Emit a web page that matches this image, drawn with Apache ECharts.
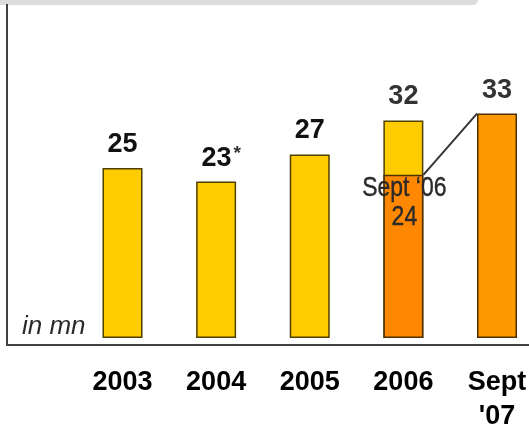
<!DOCTYPE html>
<html>
<head>
<meta charset="utf-8">
<script src="https://cdn.jsdelivr.net/npm/echarts@6/dist/echarts.min.js"></script>
<style>html,body{margin:0;padding:0;background:#fff}#c{width:529px;height:429px}</style>
</head>
<body>
<div id="c"></div>
<script>
const categories = ['2003', '2004', '2005', '2006', "Sept\n'07"];
const totalValues = [25, 23, 27, 32, null];
const septValues = [null, null, null, 24, 33];
const footnoteIndex = 1;
const unitText = 'in mn';
const septNoteLabel = 'Sept \u201806';

const FONT = "'Liberation Sans', Arial, sans-serif";
const chart = echarts.init(document.getElementById('c'), null, {renderer: 'canvas'});

const totalsData = totalValues.map((v, i) => {
  if (v === null) return null;
  const item = {value: v};
  if (i === footnoteIndex) {
    item.label = {formatter: '{a|' + v + '}{s|*}', offset: [5, 0]};
  }
  if (i === 3) {
    item.label = {color: '#333'};
  }
  return item;
});
const septData = septValues.map((v, i) => {
  if (v === null) return null;
  return {
    value: v,
    itemStyle: {color: i === 3 ? '#FF8800' : '#FF9900'},
    label: {show: i !== 3}
  };
});

chart.setOption({
  animation: false,
  grid: {left: 122.5, right: 32, top: 66, bottom: 91, containLabel: false, outerBoundsMode: 'none'},
  xAxis: {
    type: 'category', data: categories, boundaryGap: false,
    axisLine: {show: false}, axisTick: {show: false}, splitLine: {show: false},
    axisLabel: {interval: 0, margin: 28, fontFamily: FONT, fontWeight: 'bold', fontSize: 27, color: '#000', lineHeight: 34}
  },
  yAxis: {type: 'value', min: 0, max: 40, show: false},
  series: [
    {
      type: 'bar', data: totalsData, barWidth: 40,
      itemStyle: {color: '#FFCC00', borderColor: '#4f4000', borderWidth: 1.5},
      label: {
        show: true, position: 'top', distance: 10,
        fontFamily: FONT, fontWeight: 'bold', fontSize: 27, color: '#111',
        rich: {
          a: {fontFamily: FONT, fontWeight: 'bold', fontSize: 27, color: '#111'},
          s: {fontFamily: FONT, fontWeight: 'bold', fontSize: 19, color: '#333', verticalAlign: 'top', padding: [0, 0, 0, 2]}
        }
      }
    },
    {
      type: 'bar', data: septData, barWidth: 40, barGap: '-100%',
      itemStyle: {borderColor: '#4f3000', borderWidth: 1.5},
      label: {
        show: true, position: 'top', distance: 10,
        fontFamily: FONT, fontWeight: 'bold', fontSize: 27, color: '#333'
      }
    }
  ]
});

const p24 = chart.convertToPixel({gridIndex: 0}, [3, septValues[3]]);
const p33 = chart.convertToPixel({gridIndex: 0}, [4, septValues[4]]);
const half = 20;

chart.setOption({
  graphic: [
    {type: 'rect', shape: {x: 0, y: 0, width: 478, height: 5, r: [0, 0, 5, 0]}, style: {fill: '#dcdcdc'}, silent: true},
    {type: 'polyline', shape: {points: [[7, 4], [7, 345], [529, 345]]}, style: {stroke: '#404040', lineWidth: 2, fill: null}, silent: true},
    {type: 'text', x: 22, y: 327, style: {text: unitText, font: 'italic 26px ' + FONT, fill: '#2a2a2a', verticalAlign: 'middle'}, silent: true},
    {type: 'line', shape: {x1: p24[0] + half, y1: p24[1], x2: p33[0] - half, y2: p33[1]}, style: {stroke: '#333', lineWidth: 2}, silent: true, z: 10},
    {type: 'text', x: p24[0] + 1, y: p24[1] + 13, scaleX: 0.82, style: {x: 0, y: 0, text: septNoteLabel, font: '28px ' + FONT, fill: '#2a2a2a', align: 'center', verticalAlign: 'middle', stroke: '#2a2a2a', lineWidth: 0.4}, silent: true, z: 10},
    {type: 'text', x: p24[0] + 1, y: p24[1] + 42, scaleX: 0.82, style: {x: 0, y: 0, text: String(septValues[3]), font: '28px ' + FONT, fill: '#2a2a2a', align: 'center', verticalAlign: 'middle', stroke: '#2a2a2a', lineWidth: 0.4}, silent: true, z: 10}
  ]
});
</script>
</body>
</html>
